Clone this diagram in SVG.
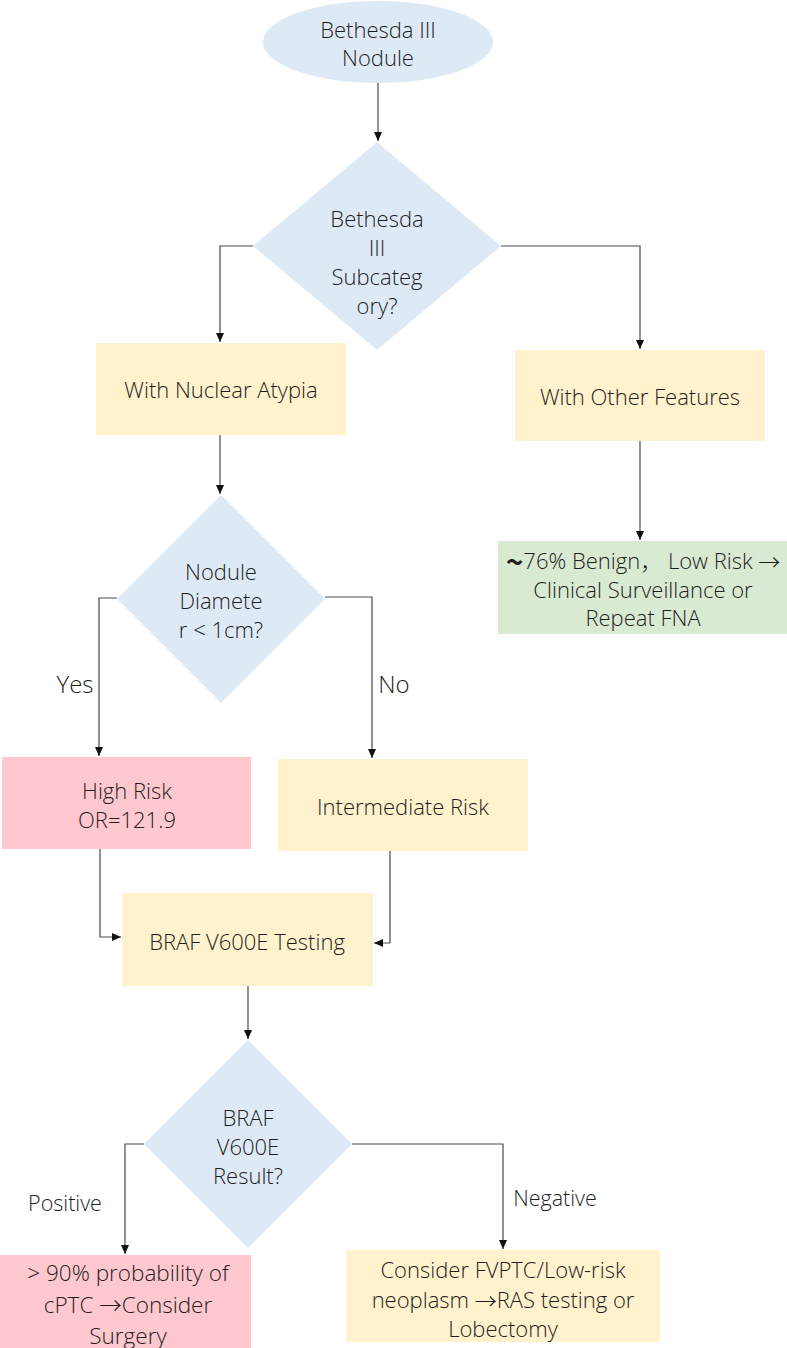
<svg xmlns="http://www.w3.org/2000/svg" width="787" height="1348" viewBox="0 0 787 1348">
<style>
text{font-family:"Open Sans","Noto Sans","Liberation Sans","Noto Sans CJK SC",sans-serif;font-weight:300;fill:#1e1e1e;text-anchor:middle;dominant-baseline:central}
.t{font-size:22px}
.lb{font-size:24px}
.sm{font-size:21.5px}
.big{font-size:22.5px}
.cjk{font-family:"Noto Sans CJK SC",sans-serif}
.blue{fill:#DDEAF6}
.yel{fill:#FFF2CC}
.pink{fill:#FFC7CE}
.green{fill:#D9EAD3}
.c{fill:none;stroke:#4a4a4a;stroke-width:1.2}
</style>
<defs>
<marker id="ah" markerWidth="10" markerHeight="10" refX="9" refY="5" orient="auto" markerUnits="userSpaceOnUse">
<path d="M0,1 L9,5 L0,9 Z" fill="#111"/>
</marker>
</defs>
<rect width="787" height="1348" fill="#fff"/>
<g id="connectors">
<path class="c" d="M378,83 V141" marker-end="url(#ah)"/>
<path class="c" d="M253,246 H220 V342" marker-end="url(#ah)"/>
<path class="c" d="M501,246 H640 V349" marker-end="url(#ah)"/>
<path class="c" d="M640,441 V540" marker-end="url(#ah)"/>
<path class="c" d="M220,435 V494" marker-end="url(#ah)"/>
<path class="c" d="M117,598 H99 V756" marker-end="url(#ah)"/>
<path class="c" d="M325,597 H372 V758" marker-end="url(#ah)"/>
<path class="c" d="M100,849 V937 H121" marker-end="url(#ah)"/>
<path class="c" d="M390,851 V943 H374" marker-end="url(#ah)"/>
<path class="c" d="M248,986 V1039" marker-end="url(#ah)"/>
<path class="c" d="M144,1144 H125 V1254" marker-end="url(#ah)"/>
<path class="c" d="M352,1144 H503 V1249" marker-end="url(#ah)"/>
<text class="lb" x="75" y="683">Yes</text>
<text class="lb" x="394" y="683">No</text>
<text class="sm" x="65" y="1202">Positive</text>
<text class="sm" x="555" y="1197">Negative</text>
</g>
<g id="start">
<ellipse class="blue" cx="378" cy="42" rx="115" ry="41"/>
<text class="t" x="378" y="29">Bethesda III</text>
<text class="t" x="378" y="57">Nodule</text>
</g>
<g id="subcategory">
<polygon class="blue" points="377,142 501,246 377,350 253,246"/>
<text class="t" x="377" y="218">Bethesda</text>
<text class="t" x="377" y="247">III</text>
<text class="t" x="377" y="276">Subcateg</text>
<text class="t" x="377" y="305">ory?</text>
</g>
<g id="nuclear">
<rect class="yel" x="96" y="343" width="250" height="92"/>
<text class="t" x="221" y="389">With Nuclear Atypia</text>
</g>
<g id="other">
<rect class="yel" x="515" y="350" width="250" height="91"/>
<text class="t" x="640" y="396">With Other Features</text>
</g>
<g id="benign">
<rect class="green" x="498" y="541" width="289" height="93"/>
<text class="t" x="643" y="560"><tspan class="cjk" font-weight="700" font-size="30px">~</tspan>76% Benign<tspan class="cjk">，</tspan> Low Risk <tspan class="cjk">→</tspan></text>
<text class="t" x="643" y="589">Clinical Surveillance or</text>
<text class="t" x="643" y="617">Repeat FNA</text>
</g>
<g id="diameter">
<polygon class="blue" points="221,495 325,599 221,703 117,599"/>
<text class="t" x="221" y="571">Nodule</text>
<text class="t" x="221" y="600">Diamete</text>
<text class="t" x="221" y="629">r &lt; 1cm?</text>
</g>
<g id="highrisk">
<rect class="pink" x="2" y="757" width="249" height="92"/>
<text class="t" x="127" y="790">High Risk</text>
<text class="t" x="127" y="819">OR=121.9</text>
</g>
<g id="intermediate">
<rect class="yel" x="278" y="759" width="250" height="92"/>
<text class="t" x="403" y="806">Intermediate Risk</text>
</g>
<g id="braftest">
<rect class="yel" x="122" y="893" width="251" height="93"/>
<text class="t" x="247" y="941">BRAF V600E Testing</text>
</g>
<g id="brafresult">
<polygon class="blue" points="248,1040 352,1144 248,1248 144,1144"/>
<text class="t" x="248" y="1117">BRAF</text>
<text class="t" x="248" y="1146">V600E</text>
<text class="t" x="248" y="1175">Result?</text>
</g>
<g id="positive">
<rect class="pink" x="0" y="1255" width="251" height="93"/>
<text class="big" x="128" y="1272">&gt; 90% probability of</text>
<text class="big" x="128" y="1304">cPTC <tspan class="cjk">→</tspan>Consider</text>
<text class="big" x="128" y="1335">Surgery</text>
</g>
<g id="negative">
<rect class="yel" x="346" y="1250" width="314" height="92"/>
<text class="t" x="503" y="1269">Consider FVPTC/Low-risk</text>
<text class="t" x="503" y="1299">neoplasm <tspan class="cjk">→</tspan>RAS testing or</text>
<text class="t" x="503" y="1328">Lobectomy</text>
</g>
</svg>
